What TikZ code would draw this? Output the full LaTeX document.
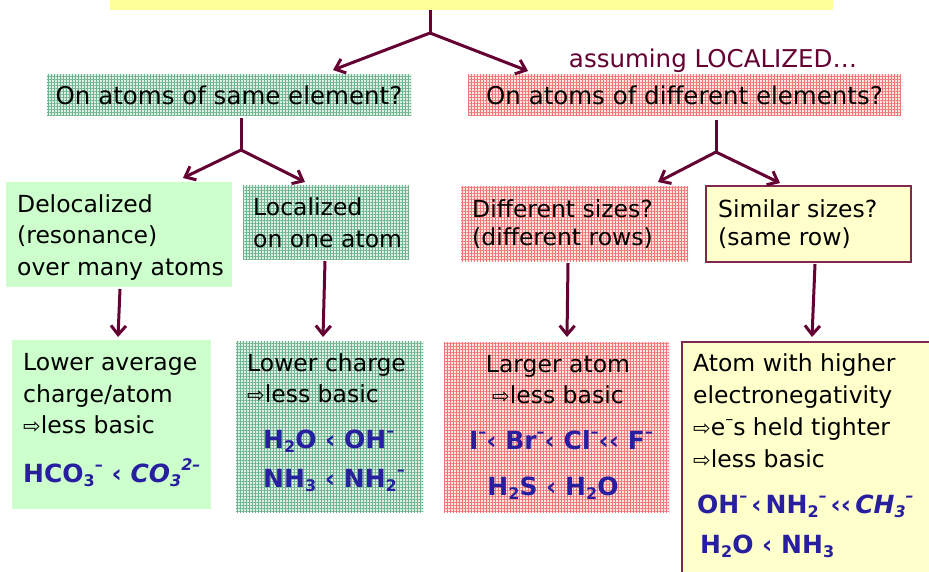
\documentclass[tikz,border=0pt]{standalone}
\usepackage{fontspec}
\setmainfont{DejaVu Sans}
\usetikzlibrary{arrows.meta,patterns.meta}
\definecolor{lc}{RGB}{100,0,50}
\definecolor{gbg}{RGB}{222,240,230}
\definecolor{gline}{RGB}{110,178,142}
\definecolor{rbg}{RGB}{255,228,228}
\definecolor{rline}{RGB}{242,118,118}
\definecolor{lgreen}{RGB}{204,255,204}
\definecolor{lyellow}{RGB}{255,255,204}
\definecolor{banner}{RGB}{255,255,153}
\definecolor{ybord}{RGB}{128,40,80}
\definecolor{fblue}{RGB}{40,30,160}
\newcommand\mysub[1]{\raisebox{-0.3ex}{\fontsize{16}{16}\selectfont #1}}
\newcommand\mysup[1]{\raisebox{0.85ex}{\fontsize{16}{16}\selectfont #1}}
\newcommand\wa{{\fontsize{21}{21}\selectfont ⇨}}
\newcommand\tsp{\hspace{4pt}}
\begin{document}
\begin{tikzpicture}[x=1pt,y=-1pt,
  boxbase/.style={inner sep=0pt, outer sep=0pt, anchor=north west},
  ggrid/.style={boxbase, preaction={fill=gbg},
    pattern={Lines[angle=0,distance=3pt,line width=0.9pt]}, pattern color=gline,
    postaction={pattern={Lines[angle=90,distance=3pt,line width=0.9pt]}, pattern color=gline}},
  rgrid/.style={boxbase, preaction={fill=rbg},
    pattern={Lines[angle=0,distance=3pt,line width=0.9pt]}, pattern color=rline,
    postaction={pattern={Lines[angle=90,distance=3pt,line width=0.9pt]}, pattern color=rline}},
  gsolid/.style={boxbase, fill=lgreen},
  ybox/.style={boxbase, fill=lyellow, draw=ybord, line width=2pt},
  txt/.style={inner sep=0pt, anchor=base west, font=\fontsize{23.5}{28}\selectfont},
  ctxt/.style={txt, anchor=base},
  ttl/.style={inner sep=0pt, anchor=base, font=\fontsize{24.5}{28}\selectfont},
  form/.style={inner sep=0pt, anchor=base west, text=fblue, font=\fontsize{25}{28}\selectfont\bfseries},
  cform/.style={form, anchor=base},
  conn/.style={draw=lc, line width=3pt},
  arr/.style={conn, -{Straight Barb[length=9pt,width=15pt]}}
]
\useasboundingbox (0,0) rectangle (929,571);
\fill[white] (0,0) rectangle (929,571);

% banner
\node[boxbase, fill=banner, minimum width=723pt, minimum height=10pt] (ban) at (110,0) {};

% level 1 boxes
\node[ggrid, minimum width=364pt, minimum height=41pt] (same) at (47,74) {};
\node[rgrid, minimum width=433pt, minimum height=42pt] (diff) at (468,74) {};
\node[ttl] (sameT) at (229,104) {On atoms of same element?};
\node[ttl] (diffT) at (684.5,104) {On atoms of different elements?};
\node[ctxt, text=lc, font=\fontsize{24.5}{28}\selectfont] (assum) at (713,67) {assuming LOCALIZED…};

% level 2 boxes
\node[gsolid, minimum width=226pt, minimum height=105pt] (deloc) at (6,182) {};
\node[ggrid, minimum width=166pt, minimum height=74pt] (loc) at (243,185) {};
\node[rgrid, minimum width=227pt, minimum height=75pt] (dsz) at (461,186) {};
\node[ybox, minimum width=205pt, minimum height=76pt] (ssz) at (706,186) {};
\node[txt] (deloc1) at (17,212) {Delocalized};
\node[txt] (deloc2) at (17,243) {(resonance)};
\node[txt] (deloc3) at (17,275) {over many atoms};
\node[txt] (loc1) at (253,215) {Localized};
\node[txt] (loc2) at (253,247) {on one atom};
\node[txt] (dsz1) at (472,217) {Different sizes?};
\node[txt] (dsz2) at (472,245) {(different rows)};
\node[txt] (ssz1) at (718,217) {Similar sizes?};
\node[txt] (ssz2) at (718,245) {(same row)};

% level 3 boxes
\node[gsolid, minimum width=199pt, minimum height=169pt] (lavg) at (12,340) {};
\node[ggrid, minimum width=187pt, minimum height=171pt] (lchg) at (236,341) {};
\node[rgrid, minimum width=225pt, minimum height=170pt] (larg) at (444,342) {};
\node[ybox, minimum width=260pt, minimum height=240pt] (aeln) at (682,342) {};

\node[txt] (lavg1) at (23,370) {Lower average};
\node[txt] (lavg2) at (23,402) {charge/atom};
\node[txt] (lavg3) at (23,433) {\wa less basic};
\node[form] (lavgF) at (23,482) {HCO\mysub{3}\mysup{–} ‹ \textit{CO\mysub{3}\mysup{2–}}};

\node[txt] (lchg1) at (247,371) {Lower charge};
\node[txt] (lchg2) at (247,402) {\wa less basic};
\node[form] (lchgF1) at (263,448) {H\mysub{2}O ‹ OH\mysup{–}};
\node[form] (lchgF2) at (263,487) {NH\mysub{3} ‹ NH\mysub{2}\mysup{–}};

\node[ctxt] (larg1) at (558,372) {Larger atom};
\node[ctxt] (larg2) at (558,403) {\wa less basic};
\node[cform] (largF1) at (561,449) {I\mysup{–}‹ Br\mysup{–}‹ Cl\mysup{–}‹‹ F\mysup{–}};
\node[cform] (largF2) at (553,495) {H\mysub{2}S ‹ H\mysub{2}O};

\node[txt] (aeln1) at (693,371) {Atom with higher};
\node[txt] (aeln2) at (693,403) {electronegativity};
\node[txt] (aeln3) at (693,435) {\wa e\mysup{–}s held tighter};
\node[txt] (aeln4) at (693,467) {\wa less basic};
\node[form] (aelnF1) at (697,513) {OH\mysup{–}\tsp‹\tsp NH\mysub{2}\mysup{–}\tsp‹‹\tsp\textit{CH\mysub{3}\mysup{–}}};
\node[form] (aelnF2) at (700,553) {H\mysub{2}O ‹ NH\mysub{3}};

% connectors
\coordinate (f0) at (430,33);
\coordinate (f1) at (241,150);
\coordinate (f2) at (716,152);
\coordinate (tip0a) at (333,70);
\coordinate (tip0b) at (528,71);
\coordinate (tip1a) at (183,178);
\coordinate (tip1b) at (305,182);
\coordinate (tip2a) at (658,182);
\coordinate (tip2b) at (780,183);
\coordinate (s3a) at (120,289);
\coordinate (s3b) at (325,261);
\coordinate (s3c) at (568,263);
\coordinate (s3d) at (815,264);
\coordinate (tip3a) at (118,337);
\coordinate (tip3b) at (323,337);
\coordinate (tip3c) at (567,337);
\coordinate (tip3d) at (812,337);

\draw[conn] (ban.south -| f0) -- (f0);
\draw[arr] (f0) -- (tip0a);
\draw[arr] (f0) -- (tip0b);
\draw[conn] ([yshift=-3pt]same.south -| f1) -- (f1);
\draw[arr] (f1) -- (tip1a);
\draw[arr] (f1) -- (tip1b);
\draw[conn] ([yshift=-4pt]diff.south -| f2) -- (f2);
\draw[arr] (f2) -- (tip2a);
\draw[arr] (f2) -- (tip2b);
\draw[arr] (s3a) -- (tip3a);
\draw[arr] (s3b) -- (tip3b);
\draw[arr] (s3c) -- (tip3c);
\draw[arr] (s3d) -- (tip3d);
\end{tikzpicture}
\end{document}
